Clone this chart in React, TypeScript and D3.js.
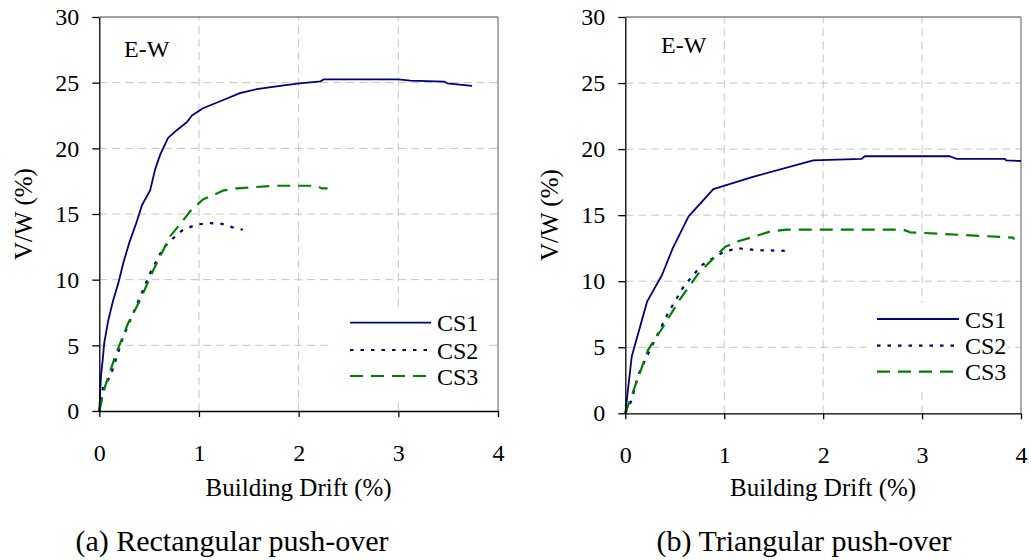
import React, { useEffect, useRef } from "react";
import * as d3 from "d3";

// Drift (%) vs base shear ratio V/W (%)
const rectCS1: [number, number][] = [
  [0, 0], [0.017, 2.7], [0.034, 3.9], [0.05, 5.2], [0.09, 6.9], [0.14, 8.45],
  [0.19, 9.7], [0.24, 11.25], [0.3, 12.8], [0.37, 14.3], [0.43, 15.7],
  [0.51, 16.8], [0.56, 18.4], [0.61, 19.5], [0.69, 20.8], [0.78, 21.4],
  [0.88, 22.0], [0.93, 22.5], [1.04, 23.05], [1.25, 23.7], [1.41, 24.2],
  [1.58, 24.5], [1.85, 24.8], [2.01, 24.95], [2.22, 25.1], [2.25, 25.25],
  [3.0, 25.25], [3.12, 25.15], [3.46, 25.08], [3.49, 24.95], [3.74, 24.75],
];
const rectCS2: [number, number][] = [
  [0, 0], [0.04, 1.85], [0.11, 2.6], [0.24, 5.65], [0.41, 8.7], [0.51, 10.5],
  [0.64, 12.4], [0.74, 13.15], [0.84, 13.8], [0.98, 14.2], [1.11, 14.3],
  [1.23, 14.25], [1.33, 14.0], [1.44, 13.8],
];
const rectCS3: [number, number][] = [
  [0, 0], [0.057, 1.85], [0.17, 4.4], [0.29, 6.7], [0.41, 8.45], [0.54, 10.7],
  [0.71, 13.3], [0.84, 14.5], [0.91, 15.2], [1.04, 16.1], [1.25, 16.8],
  [1.38, 16.95], [1.75, 17.15], [2.18, 17.15], [2.23, 16.95], [2.29, 16.95],
];
const triCS1: [number, number][] = [
  [0, 0], [0.065, 4.3], [0.22, 8.45], [0.37, 10.45], [0.48, 12.5], [0.64, 14.9],
  [0.89, 16.97], [1.29, 17.9], [1.9, 19.14], [2.39, 19.26], [2.42, 19.46],
  [3.28, 19.46], [3.35, 19.26], [3.84, 19.26], [3.85, 19.14], [4.0, 19.1],
];
const triCS2: [number, number][] = [
  [0, 0], [0.065, 1.0], [0.13, 2.9], [0.25, 4.8], [0.43, 7.55], [0.59, 9.6],
  [0.77, 11.2], [0.99, 12.2], [1.13, 12.5], [1.33, 12.35], [1.63, 12.3],
];
const triCS3: [number, number][] = [
  [0, 0], [0.23, 4.8], [0.37, 6.4], [0.55, 8.6], [0.75, 10.7], [1.01, 12.6],
  [1.13, 13.0], [1.29, 13.35], [1.46, 13.75], [1.63, 13.9], [2.81, 13.9],
  [2.88, 13.7], [3.15, 13.6], [3.92, 13.3], [3.93, 13.15],
];

const seriesNames = ["CS1", "CS2", "CS3"];
const xTicks = [0, 1, 2, 3, 4];
const yTicks = [0, 5, 10, 15, 20, 25, 30];
const captions = ["(a) Rectangular push-over", "(b) Triangular push-over"];
const panelLabel = "E-W";
const xTitle = "Building Drift (%)";
const yTitle = "V/W (%)";

const FONT = "Liberation Serif";
const styles = [
  { color: "#000080", dash: null },
  { color: "#000080", dash: "3.5,7" },
  { color: "#008000", dash: "13,8" },
];

// panel geometry in page pixels
const panels = [
  {
    series: [rectCS1, rectCS2, rectCS3],
    left: 99.3, right: 498, top: 17, bottom: 411,
    label: [124, 57], legend: { x0: 350, x1: 431, tx: 437, ys: [322.7, 350, 376], box: [330, 308, 154, 90] },
    yTitleX: 32, captionX: 232,
  },
  {
    series: [triCS1, triCS2, triCS3],
    left: 625.3, right: 1021, top: 17, bottom: 413.3,
    label: [661, 53], legend: { x0: 877, x1: 959, tx: 965, ys: [319, 345.7, 371.7], box: [866, 303, 142, 86] },
    yTitleX: 558, captionX: 804,
  },
];

function App() {
  const ref = useRef<SVGSVGElement>(null);

  useEffect(() => {
    const svg = d3.select(ref.current);
    svg.selectAll("*").remove();

    panels.forEach((p, pi) => {
      const x = d3.scaleLinear().domain([0, 4]).range([p.left, p.right]);
      const y = d3.scaleLinear().domain([0, 30]).range([p.bottom, p.top]);
      const g = svg.append("g");

      // dashed grid
      g.selectAll(".gx")
        .data([1, 2, 3])
        .enter()
        .append("line")
        .attr("x1", (d) => x(d)).attr("x2", (d) => x(d))
        .attr("y1", y(0)).attr("y2", y(30))
        .attr("stroke", "#c4c4c4").attr("stroke-dasharray", "8,5");
      g.selectAll(".gy")
        .data([5, 10, 15, 20, 25])
        .enter()
        .append("line")
        .attr("x1", x(0)).attr("x2", x(4))
        .attr("y1", (d) => y(d)).attr("y2", (d) => y(d))
        .attr("stroke", "#c4c4c4").attr("stroke-dasharray", "8,5");

      // top and right frame
      g.append("line")
        .attr("x1", x(0)).attr("x2", x(4)).attr("y1", y(30)).attr("y2", y(30))
        .attr("stroke", "#444").attr("stroke-width", 1.2);
      g.append("line")
        .attr("x1", x(4)).attr("x2", x(4)).attr("y1", y(30)).attr("y2", y(0))
        .attr("stroke", "#777").attr("stroke-width", 1.2);

      // legend background
      const lg = p.legend;
      g.append("rect")
        .attr("x", lg.box[0]).attr("y", lg.box[1])
        .attr("width", lg.box[2]).attr("height", lg.box[3])
        .attr("fill", "white");

      // curves
      const line = d3
        .line<[number, number]>()
        .x((d) => x(d[0]))
        .y((d) => y(d[1]));
      p.series.forEach((s, i) => {
        g.append("path")
          .datum(s)
          .attr("d", line)
          .attr("fill", "none")
          .attr("stroke", styles[i].color)
          .attr("stroke-width", i === 0 ? 1.8 : 2.2)
          .attr("stroke-dasharray", styles[i].dash)
          .attr("stroke-linejoin", "round");
      });

      // axes
      const yAxis = g
        .append("g")
        .attr("transform", `translate(${x(0)},0)`)
        .call(
          d3.axisLeft(y).tickValues(yTicks).tickFormat(d3.format("d"))
            .tickSize(7).tickSizeOuter(0).tickPadding(13)
        );
      const xAxis = g
        .append("g")
        .attr("transform", `translate(0,${y(0)})`)
        .call(
          d3.axisBottom(x).tickValues(xTicks).tickFormat(d3.format("d"))
            .tickSize(6).tickSizeOuter(0).tickPadding(27)
        );
      [yAxis, xAxis].forEach((a) => {
        a.attr("font-family", FONT).attr("font-size", 24);
        a.select(".domain").attr("stroke", "#000").attr("stroke-width", 1.3);
        a.selectAll("line").attr("stroke", "#000").attr("stroke-width", 1.3);
        a.selectAll("text").attr("fill", "#000");
      });

      // legend entries
      lg.ys.forEach((ly, i) => {
        g.append("line")
          .attr("x1", lg.x0).attr("x2", lg.x1).attr("y1", ly).attr("y2", ly)
          .attr("stroke", styles[i].color)
          .attr("stroke-width", i === 0 ? 1.8 : 2.2)
          .attr("stroke-dasharray", styles[i].dash);
        g.append("text")
          .attr("x", lg.tx).attr("y", ly + 8.5)
          .attr("font-family", FONT).attr("font-size", 24)
          .text(seriesNames[i]);
      });

      // labels
      g.append("text")
        .attr("x", p.label[0]).attr("y", p.label[1])
        .attr("font-family", FONT).attr("font-size", 24)
        .text(panelLabel);
      g.append("text")
        .attr("x", (p.left + p.right) / 2).attr("y", 496)
        .attr("text-anchor", "middle")
        .attr("font-family", FONT).attr("font-size", 25)
        .text(xTitle);
      g.append("text")
        .attr("transform", `translate(${p.yTitleX},${(p.top + p.bottom) / 2}) rotate(-90)`)
        .attr("text-anchor", "middle")
        .attr("font-family", FONT).attr("font-size", 25)
        .text(yTitle);
      g.append("text")
        .attr("x", p.captionX).attr("y", 551)
        .attr("text-anchor", "middle")
        .attr("font-family", FONT).attr("font-size", 30)
        .text(captions[pi]);
    });
  }, []);

  return (
    <svg
      ref={ref}
      width={1031}
      height={560}
      style={{ position: "absolute", left: 0, top: 0, background: "white" }}
    />
  );
}

export default App;
